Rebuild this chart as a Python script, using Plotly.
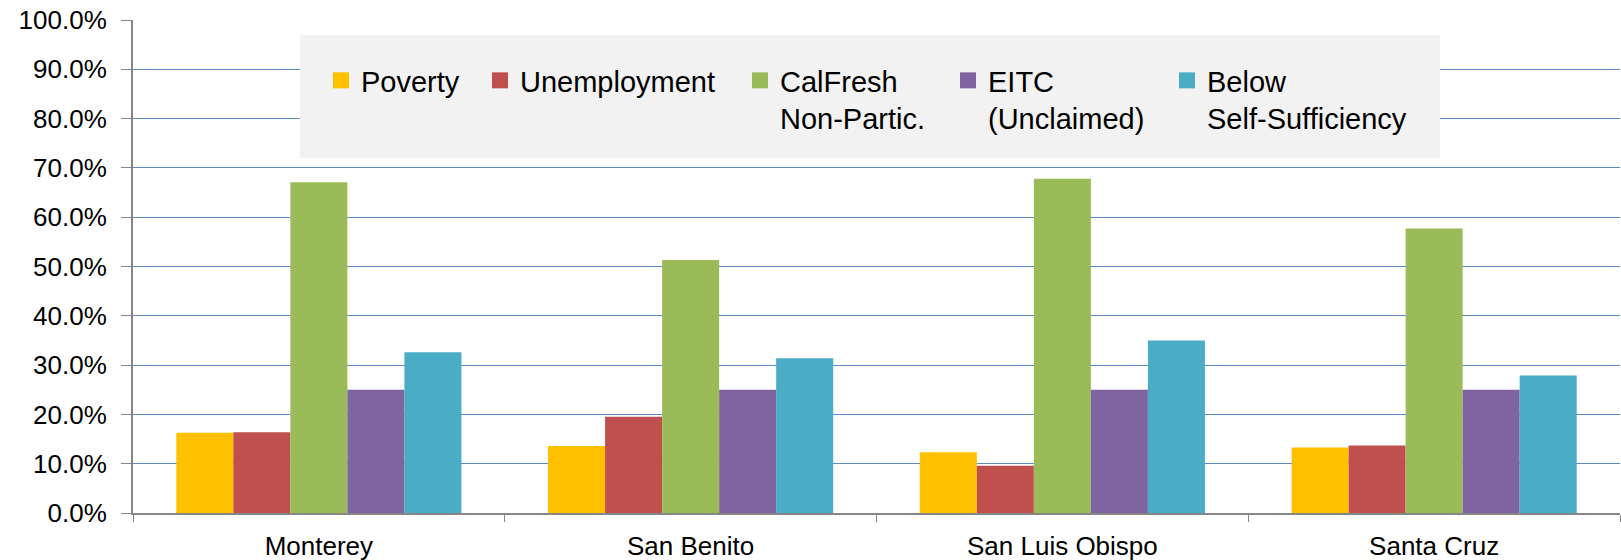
import plotly.graph_objects as go

counties = ["Monterey", "San Benito", "San Luis Obispo", "Santa Cruz"]

poverty = [16.3, 13.6, 12.3, 13.3]
unemployment = [16.4, 19.5, 9.6, 13.7]
calfresh = [67.1, 51.3, 67.8, 57.7]
eitc = [25.0, 25.0, 25.0, 25.0]
self_suff = [32.6, 31.4, 35.0, 27.9]

series_names = ["Poverty", "Unemployment", "CalFresh<br>Non-Partic.",
                "EITC<br>(Unclaimed)", "Below<br>Self-Sufficiency"]
series_values = [poverty, unemployment, calfresh, eitc, self_suff]
colors = ["#FFC000", "#C0504D", "#9BBB59", "#8064A2", "#4BACC6"]

# legend left edge (px from figure left) for each entry
legend_x = [321, 480, 740, 948, 1167]

W, H = 1621, 560
L, R, T, B = 133, 1, 20, 47
PW, PH = W - L - R, H - T - B
FONT = "Liberation Sans, Arial, sans-serif"


def px_x(v):
    return (v - L) / PW


def px_y(v):
    return (H - B - v) / PH


fig = go.Figure()
for i, (name, vals, col) in enumerate(zip(series_names, series_values, colors)):
    lg = "legend" if i == 0 else f"legend{i + 1}"
    fig.add_trace(go.Bar(
        name=name,
        x=counties,
        y=vals,
        marker_color=col,
        marker_line_width=0,
        legendgroup=name,
        showlegend=False,
    ))
    # legend-only entry, to get the larger square swatch
    fig.add_trace(go.Scatter(
        name=name,
        x=[None],
        y=[None],
        mode="markers",
        marker=dict(symbol="square", size=16, color=col),
        legendgroup=name,
        legend=lg,
        showlegend=True,
        hoverinfo="skip",
    ))

legends = {}
for i, lx in enumerate(legend_x):
    key = "legend" if i == 0 else f"legend{i + 1}"
    legends[key] = dict(
        x=px_x(lx), xanchor="left",
        y=px_y(55), yanchor="top",
        bgcolor="rgba(0,0,0,0)",
        font=dict(family=FONT, size=29, color="black"),
        valign="top",
        itemclick=False,
        visible=True,
    )

fig.update_layout(
    width=W,
    height=H,
    showlegend=True,
    margin=dict(l=L, r=R, t=T, b=B),
    paper_bgcolor="white",
    plot_bgcolor="white",
    font=dict(family=FONT, color="black"),
    barmode="group",
    bargap=0.233,
    bargroupgap=0,
    xaxis=dict(
        showline=True,
        linecolor="#868686",
        linewidth=2,
        ticks="outside",
        tickson="boundaries",
        ticklen=7,
        tickcolor="#868686",
        tickfont=dict(family=FONT, size=26, color="black"),
        ticklabelstandoff=9,
        showgrid=False,
        automargin=False,
    ),
    yaxis=dict(
        range=[0, 100],
        dtick=10,
        tickformat=".1f",
        ticksuffix="%",
        showline=True,
        linecolor="#868686",
        linewidth=2,
        ticks="outside",
        ticklen=10,
        tickcolor="#868686",
        showgrid=True,
        gridcolor="#5B8AC6",
        gridwidth=1,
        zeroline=False,
        tickfont=dict(family=FONT, size=26, color="black"),
        ticklabelstandoff=9,
        automargin=False,
    ),
    shapes=[dict(
        type="rect", xref="paper", yref="paper",
        x0=px_x(300), x1=px_x(1440),
        y0=px_y(158), y1=px_y(35),
        fillcolor="#F2F2F2", line_width=0, layer="above",
    )],
    **legends,
)

fig.write_html("out.html", config={"displayModeBar": False},
               post_script="document.body.style.margin='0';")
